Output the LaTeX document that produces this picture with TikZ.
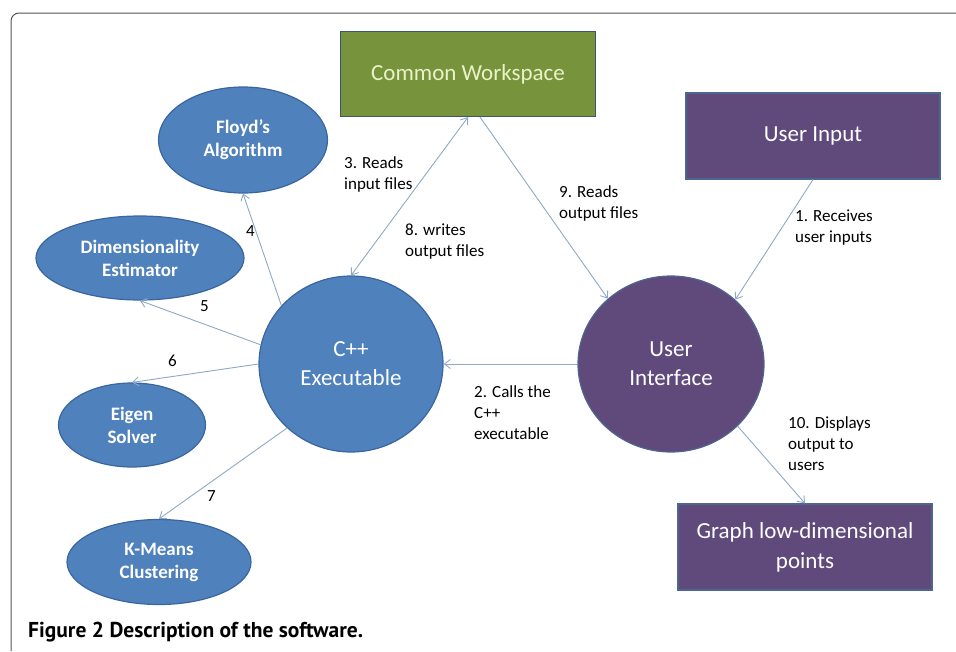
\documentclass[tikz,border=0pt]{standalone}
\usepackage{fontspec}
\setmainfont{Carlito}
\newfontfamily\capfont{PT Sans}
\usepackage{tikz}
\usetikzlibrary{shapes.geometric, arrows.meta}

\definecolor{blueshape}{HTML}{4F81BD}
\definecolor{blueline}{HTML}{3A66A0}
\definecolor{greenshape}{HTML}{77933C}
\definecolor{greenline}{HTML}{3F5470}
\definecolor{greentext}{HTML}{EAF2C8}
\definecolor{purpleshape}{HTML}{5F4A7B}
\definecolor{purpleline}{HTML}{4E6590}
\definecolor{linkcol}{HTML}{8FA8C6}
\definecolor{framecol}{HTML}{555555}

\tikzset{
  oval/.style={ellipse, draw=blueline, fill=blueshape, line width=1.2pt, inner sep=0pt,
    text=white, align=center, font=\fontsize{19}{23}\selectfont\bfseries},
  box/.style={rectangle, draw=purpleline, fill=purpleshape, line width=1.2pt, inner sep=0pt,
    minimum width=254pt, minimum height=86pt, text=white, align=center,
    font=\fontsize{23}{29}\selectfont},
  lbl/.style={anchor=north west, align=left, inner sep=0pt, font=\fontsize{17}{21}\selectfont},
  link/.style={draw=linkcol, line width=0.9pt, -{Straight Barb[length=6pt,width=9pt]}},
}

\begin{document}
\begin{tikzpicture}[x=1pt, y=-1pt]
  \useasboundingbox (0,0) rectangle (956,651);
  % frame
  \draw[framecol, line width=1pt] (11,651) -- (11,21) arc[start angle=180, end angle=270, radius=8] -- (956,13);

  % main blocks
  \node[box, fill=greenshape, draw=greenline, text=greentext, minimum width=255pt, minimum height=85pt] (ws) at (468,74) {Common Workspace};
  \node[box] (input) at (813,136) {User Input};
  \node[box, font=\fontsize{23}{30}\selectfont] (graph) at (805,547) {Graph low-dimensional\\points};
  \node[oval, draw=purpleline, fill=purpleshape, font=\fontsize{23}{29}\selectfont, minimum width=186pt, minimum height=176pt] (ui) at (671,364) {User\\Interface};
  \node[oval, font=\fontsize{23}{29}\selectfont, minimum width=184pt, minimum height=176pt] (cpp) at (351,364) {C++\\Executable};

  % helper programs
  \node[oval, minimum width=169pt, minimum height=106pt] (floyd) at (243,140) {Floyd’s\\Algorithm};
  \node[oval, minimum width=208pt, minimum height=84pt] (dim) at (140,258) {Dimensionality\\Estimator};
  \node[oval, minimum width=147pt, minimum height=84pt] (eigen) at (132,425) {Eigen\\Solver};
  \node[oval, minimum width=184pt, minimum height=85pt] (kmeans) at (159,562) {K-Means\\Clustering};

  % connectors
  \draw[link, {Straight Barb[length=6pt,width=9pt]}-{Straight Barb[length=6pt,width=9pt]}] (cpp.north) -- (ws.south);
  \draw[link] ([xshift=12pt]ws.south) -- (ui.134);
  \draw[link] (input.south) -- (ui.45);
  \draw[link] (ui.west) -- (cpp.east);
  \draw[link] (ui.-43) -- (graph.north);
  \draw[link] (cpp.140) -- (floyd.south);
  \draw[link] (cpp.168) -- (dim.south);
  \draw[link] (cpp.180) -- (eigen.north);
  \draw[link] (cpp.225) -- (kmeans.north);

  % labels
  \node[lbl] (l3) at (344,156) {3. Reads\\input files};
  \node[lbl] (l8) at (405,224) {8. writes\\output files};
  \node[lbl] (l9) at (559,185) {9. Reads\\output files};
  \node[lbl] (l1) at (795,210) {1. Receives\\user inputs};
  \node[lbl] (l2) at (474,385) {2. Calls the\\C++\\executable};
  \node[lbl] (l10) at (788,416) {10. Displays\\output to\\users};
  \node[lbl] (l4) at (246,225) {4};
  \node[lbl] (l5) at (200,300) {5};
  \node[lbl] (l6) at (168,355) {6};
  \node[lbl] (l7) at (207,490) {7};

  % caption
  \node[anchor=west, inner sep=0pt, font=\capfont\fontsize{21.5}{26}\selectfont\bfseries] (cap) at (28,632) {Figure 2 Description of the software.};
\end{tikzpicture}
\end{document}
